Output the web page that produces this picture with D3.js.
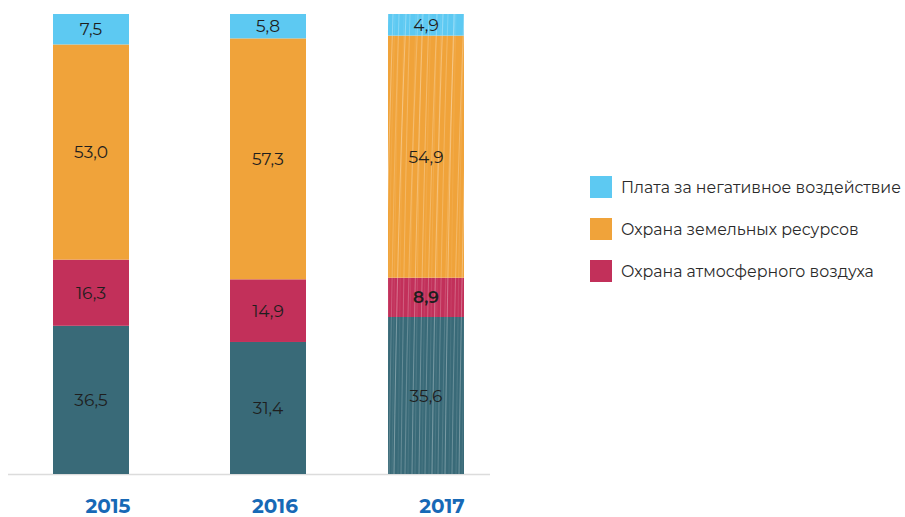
<!DOCTYPE html>
<html>
<head>
<meta charset="utf-8">
<script src="https://cdn.jsdelivr.net/npm/d3@7"></script>
<style>
  html, body { margin: 0; padding: 0; background: #fff; }
  svg { display: block; font-family: Montserrat, "DejaVu Sans", sans-serif; }
</style>
</head>
<body>
<svg id="chart" width="905" height="517"></svg>
<script>
// Structure of environmental expenditures, % (shares of total per year)
const years = ["2015", "2016", "2017"];
const otherValues   = [36.5, 31.4, 35.6];   // dark teal base segment
const airValues     = [16.3, 14.9, 8.9];
const landValues    = [53.0, 57.3, 54.9];
const paymentValues = [7.5, 5.8, 4.9];
const legendOrder = ["Плата за негативное воздействие", "Охрана земельных ресурсов", "Охрана атмосферного воздуха"];

const colors = {
  other: "#396a78",
  air: "#c2305a",
  land: "#f0a33a",
  payment: "#5dc9f2"
};

const keys = ["other", "air", "land", "payment"];
const rows = years.map((y, i) => ({
  year: y,
  other: otherValues[i],
  air: airValues[i],
  land: landValues[i],
  payment: paymentValues[i]
}));

const svg = d3.select("#chart");

// Bars sit slightly left of their year labels
const xBar = d3.scaleOrdinal().domain(years).range([91, 268, 426]);
const xLabel = d3.scalePoint().domain(years).range([108, 442]);
const barW = 76;
const y = d3.scaleLinear().domain([0, 1]).range([474, 14]);

const stack = d3.stack().keys(keys).offset(d3.stackOffsetExpand);
const layers = stack(rows);

// Streaky texture for the 2017 column: one tile covers the whole bar
const defs = svg.append("defs");
const tileW = 76, tileH = 460;
const pat = defs.append("pattern")
  .attr("id", "streaks")
  .attr("patternUnits", "userSpaceOnUse")
  .attr("width", tileW).attr("height", tileH)
  .attr("x", 388).attr("y", 14);
const strokes = [
  [1, 0.28, 0.7, 10], [4, 0.15, 0.5, 7], [6, 0.33, 1.0, 12], [10, 0.14, 0.5, 6],
  [13, 0.28, 0.8, 9], [17, 0.22, 1.1, 13], [20, 0.14, 0.6, 8], [24, 0.32, 0.9, 11],
  [27, 0.18, 0.6, 7], [31, 0.26, 1.0, 10], [34, 0.14, 0.5, 9], [37, 0.30, 0.8, 12],
  [41, 0.16, 0.6, 8], [44, 0.30, 1.1, 11], [47, 0.14, 0.5, 6], [50, 0.26, 0.8, 10],
  [54, 0.20, 0.7, 13], [57, 0.32, 1.0, 9], [61, 0.14, 0.5, 7], [64, 0.28, 0.9, 12],
  [68, 0.18, 0.6, 8], [71, 0.30, 1.0, 10], [74, 0.15, 0.5, 9]
];
strokes.forEach(([x0, op, w, bend]) => {
  [0, -tileW].forEach(shift => {
    const x = x0 + shift;
    pat.append("path")
      .attr("d", `M${x + bend},0 C${x + bend * 0.5},150 ${x + 2},300 ${x},${tileH}`)
      .attr("fill", "none")
      .attr("stroke", "#ffffff")
      .attr("stroke-opacity", op)
      .attr("stroke-width", w);
  });
});

// Axis baseline
svg.append("line")
  .attr("x1", 8).attr("x2", 490)
  .attr("y1", 474.5).attr("y2", 474.5)
  .attr("stroke", "#dcdcdc").attr("stroke-width", 1.5);

const g = svg.append("g");
layers.forEach(layer => {
  const key = layer.key;
  layer.forEach((seg, i) => {
    const yr = years[i];
    const x0 = xBar(yr) - barW / 2;
    const y0 = y(seg[1]);
    const h = y(seg[0]) - y(seg[1]);
    g.append("rect")
      .attr("x", x0).attr("y", y0)
      .attr("width", barW).attr("height", h)
      .attr("fill", colors[key]);
    if (yr === "2017") {
      g.append("rect")
        .attr("x", x0).attr("y", y0)
        .attr("width", barW).attr("height", h)
        .attr("fill", "url(#streaks)");
    }
    const v = seg.data[key];
    g.append("text")
      .attr("x", xBar(yr))
      .attr("y", y0 + h / 2)
      .attr("dy", "0.36em")
      .attr("text-anchor", "middle")
      .attr("font-size", 17)
      .attr("font-weight", (yr === "2017" && key === "air") ? 600 : 400)
      .attr("fill", "#1e1e1e")
      .text(d3.format(".1f")(v).replace(".", ","));
  });
});

// Year labels
svg.append("g").selectAll("text")
  .data(years)
  .join("text")
  .attr("x", d => xLabel(d))
  .attr("y", 506)
  .attr("dy", "0.35em")
  .attr("text-anchor", "middle")
  .attr("font-size", 20)
  .attr("font-weight", 700)
  .attr("fill", "#1769b6")
  .text(d => d);

// Legend
const legendColor = {
  "Плата за негативное воздействие": colors.payment,
  "Охрана земельных ресурсов": colors.land,
  "Охрана атмосферного воздуха": colors.air
};
const lg = svg.append("g").attr("transform", "translate(590,176)");
const item = lg.selectAll("g")
  .data(legendOrder)
  .join("g")
  .attr("transform", (d, i) => `translate(0,${i * 42})`);
item.append("rect")
  .attr("width", 22).attr("height", 22)
  .attr("fill", d => legendColor[d]);
item.append("text")
  .attr("x", 31).attr("y", 11)
  .attr("dy", "0.36em")
  .attr("font-size", 15.8)
  .attr("fill", "#2a2a2a")
  .text(d => d);
</script>
</body>
</html>
